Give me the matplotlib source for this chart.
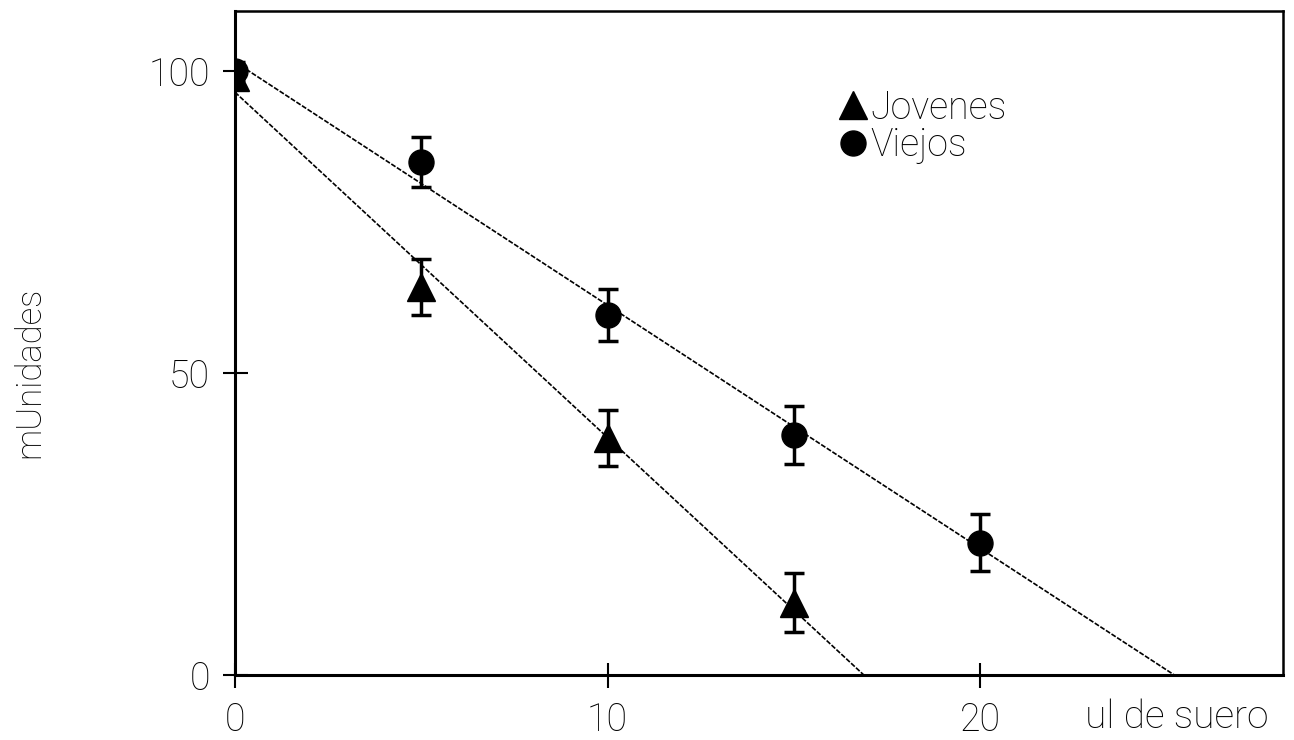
import matplotlib.pyplot as plt
import numpy as np

# serum volume (ul) and activity (mU)
x_jov = [0, 5, 10, 15]
y_jov = [99, 64.3, 39.3, 12.0]
e_jov = [1.5, 4.7, 4.6, 4.9]

x_vie = [0, 5, 10, 15, 20]
y_vie = [100, 85.0, 59.7, 39.8, 21.9]
e_vie = [1.5, 4.1, 4.3, 4.8, 4.7]

xticks = [0, 10, 20]
yticks = [0, 50, 100]

plt.rcParams['font.family'] = ['Roboto', 'DejaVu Sans']
plt.rcParams['font.weight'] = 'light'

fig = plt.figure(figsize=(12.94, 7.40), dpi=100)
ax = fig.add_axes([0.1816, 0.0878, 0.8099, 0.8973])

def fit_line(xs, ys):
    m, b = np.polyfit(xs, ys, 1)
    x0 = -b / m
    return [0, x0], [b, 0]

lx, ly = fit_line(x_jov, y_jov)
ax.plot(lx, ly, color='black', lw=1.2, ls=(0, (3, 1)))
lx, ly = fit_line(x_vie, y_vie)
ax.plot(lx, ly, color='black', lw=1.2, ls=(0, (3, 1)))

ax.errorbar(x_jov, y_jov, yerr=e_jov, fmt='^', color='black', ms=20,
            elinewidth=2.5, capsize=7, capthick=2.5, label='Jovenes', zorder=3)
ax.errorbar(x_vie, y_vie, yerr=e_vie, fmt='o', color='black', ms=18,
            elinewidth=2.5, capsize=7, capthick=2.5, label='Viejos', zorder=3)

ax.set_xlim(0, 28.13)
ax.set_ylim(0, 110)
ax.set_xticks(xticks)
ax.set_yticks(yticks)
ax.tick_params(direction='inout', length=18, width=1.5, labelsize=27, pad=9)
ax.tick_params(axis='x', pad=10)

for side in ['left', 'bottom']:
    ax.spines[side].set_linewidth(2.2)
for side in ['top', 'right']:
    ax.spines[side].set_linewidth(1.8)

ax.set_ylabel('mUnidades', fontsize=25, fontweight='light')
ax.yaxis.set_label_coords(-0.18, 0.456)
ax.text(0.899, -0.064, 'ul de suero', transform=ax.transAxes, fontsize=28,
        fontweight='light', ha='center', va='center')

handles, labels = ax.get_legend_handles_labels()
handles = [h[0] for h in handles]
leg = ax.legend(handles, labels, loc='upper left', bbox_to_anchor=(0.56, 0.905),
                frameon=False, fontsize=27, handletextpad=0.05, handlelength=0.85,
                labelspacing=0.0, markerscale=1.0, borderaxespad=0)

fig.savefig('out.png', dpi=100)
